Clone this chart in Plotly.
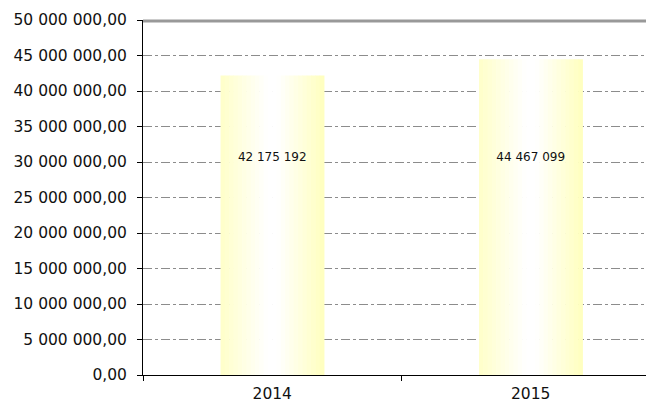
import plotly.graph_objects as go

years = ["2014", "2015"]
values = [42175192, 44467099]
y_ticks = [0, 5e6, 10e6, 15e6, 20e6, 25e6, 30e6, 35e6, 40e6, 45e6, 50e6]
label_level = 30.6e6  # height at which the value labels sit


def fmt_space(v, decimals=0):
    s = f"{v:,.{decimals}f}".replace(",", " ").replace(".", ",")
    return s


def mix(c1, c2, t):
    return "rgb({},{},{})".format(*[round(a + (b - a) * t) for a, b in zip(c1, c2)])


# horizontal gradient of the bars: yellow -> white -> yellow
YEL_L = (255, 255, 200)
YEL_R = (255, 255, 190)
WHITE = (255, 255, 255)
BAR_W = 0.40
N = 24

fig = go.Figure()

for i in range(N):
    t = (i + 0.5) / N
    if t < 0.45:
        col = mix(YEL_L, WHITE, t / 0.45)
    elif t < 0.55:
        col = "rgb(255,255,255)"
    else:
        col = mix(WHITE, YEL_R, (t - 0.55) / 0.45)
    fig.add_trace(go.Bar(
        x=years,
        y=values,
        width=BAR_W / N + 0.002,
        offset=-BAR_W / 2 + i * BAR_W / N,
        marker=dict(color=col, line=dict(width=0)),
        showlegend=False,
        hoverinfo="skip",
    ))

# value labels
fig.add_trace(go.Scatter(
    x=years,
    y=[label_level] * len(years),
    mode="text",
    text=[fmt_space(v) for v in values],
    textposition="middle center",
    textfont=dict(family="DejaVu Sans", size=12, color="#111"),
    showlegend=False,
    hoverinfo="skip",
))

# thick grey line along the top of the plot area (paper ref so it is not clipped)
fig.add_shape(
    type="line", xref="paper", x0=0, x1=1, yref="paper", y0=0.997, y1=0.997,
    line=dict(color="#999999", width=3), layer="above",
)

# the plot runs past the right edge of the window like the original
fig.update_layout(
    width=646,
    height=401,
    margin=dict(l=143, r=0, t=20, b=26),
    plot_bgcolor="white",
    paper_bgcolor="white",
    barmode="overlay",
    font=dict(family="DejaVu Sans", size=15.5, color="#111"),
    xaxis=dict(
        type="category",
        range=[-0.5, 1.446],
        automargin=False,
        showline=True,
        linecolor="black",
        linewidth=1,
        ticks="outside",
        tickson="boundaries",
        ticklen=5,
        tickcolor="black",
        showgrid=False,
        ticklabelstandoff=4,
        tickfont=dict(size=15.5),
    ),
    yaxis=dict(
        range=[0, y_ticks[-1]],
        automargin=False,
        tickvals=y_ticks,
        ticktext=[fmt_space(v, 2) for v in y_ticks],
        showline=True,
        linecolor="black",
        linewidth=1,
        ticks="outside",
        ticklen=5,
        tickcolor="black",
        showgrid=True,
        gridcolor="#8c8c8c",
        gridwidth=1,
        griddash="dashdot",
        zeroline=False,
        ticklabelstandoff=7,
        tickfont=dict(size=15.5),
    ),
)

fig.write_html(
    "out.html",
    config={"displayModeBar": False},
    post_script="document.body.style.margin='0';document.body.style.overflow='hidden';",
)
